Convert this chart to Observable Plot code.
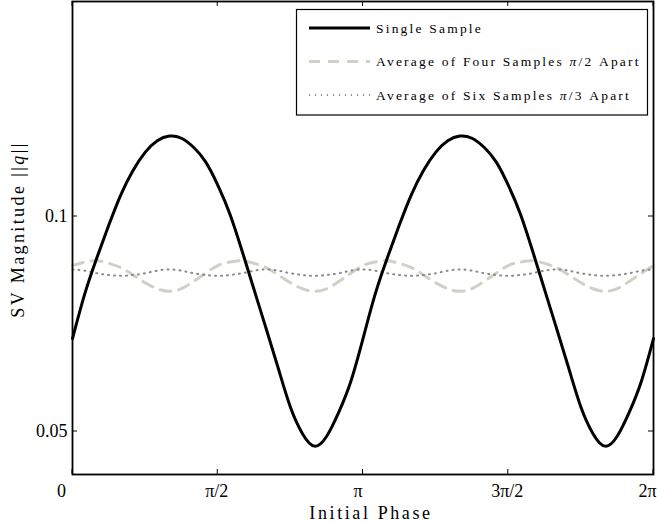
<!DOCTYPE html>
<html><head><meta charset="utf-8">
<script src="https://cdn.jsdelivr.net/npm/d3@7"></script>
<script src="https://cdn.jsdelivr.net/npm/@observablehq/plot@0.6"></script>
<style>body{margin:0;background:#fff} svg{display:block}</style>
</head><body><div id="chart"></div>
<script>
// Initial phase, in multiples of pi
const phaseOverPi = [0, 0.0417, 0.0833, 0.125, 0.1667, 0.2083, 0.25, 0.2917, 0.3333, 0.375, 0.4167, 0.4583,
  0.5, 0.5417, 0.5833, 0.625, 0.6667, 0.7083, 0.75, 0.7917, 0.8333, 0.875, 0.9167, 0.9583,
  1, 1.0417, 1.0833, 1.125, 1.1667, 1.2083, 1.25, 1.2917, 1.3333, 1.375, 1.4167, 1.4583,
  1.5, 1.5417, 1.5833, 1.625, 1.6667, 1.7083, 1.75, 1.7917, 1.8333, 1.875, 1.9167, 1.9583, 2];

const singleSample = [0.0716, 0.0819, 0.0903, 0.0980, 0.1051, 0.1107, 0.1149, 0.1176, 0.1187, 0.1182, 0.1161, 0.1127,
  0.1073, 0.1006, 0.0921, 0.0830, 0.0739, 0.0647, 0.0557, 0.0495, 0.0466, 0.0489, 0.0545, 0.0617,
  0.0716, 0.0819, 0.0903, 0.0980, 0.1051, 0.1107, 0.1149, 0.1176, 0.1187, 0.1182, 0.1161, 0.1127,
  0.1073, 0.1006, 0.0921, 0.0830, 0.0739, 0.0647, 0.0557, 0.0495, 0.0466, 0.0489, 0.0545, 0.0617, 0.0716];

const fourSampleAvg = [0.0886, 0.0894, 0.0897, 0.0891, 0.0881, 0.0864, 0.0846, 0.0832, 0.0826, 0.0832, 0.0849, 0.0868,
  0.0886, 0.0894, 0.0897, 0.0891, 0.0881, 0.0864, 0.0846, 0.0832, 0.0826, 0.0832, 0.0849, 0.0868,
  0.0886, 0.0894, 0.0897, 0.0891, 0.0881, 0.0864, 0.0846, 0.0832, 0.0826, 0.0832, 0.0849, 0.0868,
  0.0886, 0.0894, 0.0897, 0.0891, 0.0881, 0.0864, 0.0846, 0.0832, 0.0826, 0.0832, 0.0849, 0.0868, 0.0886];

const sixSampleAvg = [0.0877, 0.0874, 0.0868, 0.0864, 0.0862, 0.0864, 0.0868, 0.0874,
  0.0877, 0.0874, 0.0868, 0.0864, 0.0862, 0.0864, 0.0868, 0.0874,
  0.0877, 0.0874, 0.0868, 0.0864, 0.0862, 0.0864, 0.0868, 0.0874,
  0.0877, 0.0874, 0.0868, 0.0864, 0.0862, 0.0864, 0.0868, 0.0874,
  0.0877, 0.0874, 0.0868, 0.0864, 0.0862, 0.0864, 0.0868, 0.0874,
  0.0877, 0.0874, 0.0868, 0.0864, 0.0862, 0.0864, 0.0868, 0.0874, 0.0877];

const seriesNames = ["Single Sample", "Average of Four Samples π/2 Apart", "Average of Six Samples π/3 Apart"];
const xTicksOverPi = [0, 0.5, 1, 1.5, 2];
const xTickLabels = ["0", "π/2", "π", "3π/2", "2π"];
const yTicks = [0.05, 0.1];
const yTickLabels = ["0.05", "0.1"];
const xTitle = "Initial Phase";
const yTitle = "SV Magnitude ";

const PI = Math.PI;
const xTicks = xTicksOverPi.map(d => d * PI);
const rows = (vals) => phaseOverPi.map((p, i) => ({x: p * PI, y: vals[i]}));
const serif = "'Liberation Serif', 'Times New Roman', serif";

const labelText = (idx, dx) => Plot.text(idx.map(i => ({x: xTicks[i], t: xTickLabels[i]})), {
  x: "x", text: "t", frameAnchor: "bottom", dy: 17, dx, lineAnchor: "middle",
  fontSize: 18, fontFamily: serif, fill: "black"
});

const svg = Plot.plot({
  width: 657, height: 522,
  marginLeft: 72, marginRight: 4, marginTop: 1, marginBottom: 48,
  style: {background: "white", overflow: "visible"},
  x: {domain: [0, 2 * PI], axis: null},
  y: {domain: [0.04, 0.15], axis: null},
  marks: [
    Plot.line(rows(fourSampleAvg), {x: "x", y: "y", stroke: "#d3cfc7", strokeWidth: 3, strokeDasharray: "11,8", curve: "natural"}),
    Plot.line(rows(sixSampleAvg), {x: "x", y: "y", stroke: "#8a8a8a", strokeWidth: 2, strokeDasharray: "1,5", curve: "natural"}),
    Plot.line(rows(singleSample), {x: "x", y: "y", stroke: "black", strokeWidth: 3, curve: "natural"}),
    Plot.frame({stroke: "black", strokeWidth: 1.8}),
    labelText([0], -11),
    labelText([1, 3], -1),
    labelText([2], -5),
    labelText([4], -6),
    Plot.text(yTicks.map((v, i) => ({y: v, t: yTickLabels[i]})), {
      y: "y", text: "t", frameAnchor: "left", dx: -5, textAnchor: "end", lineAnchor: "middle",
      fontSize: 18, fontFamily: serif, fill: "black"
    })
  ]
});
document.getElementById("chart").appendChild(svg);

const s = d3.select(svg);
const sx = svg.scale("x"), sy = svg.scale("y");
const [x0, x1] = sx.range, [yb, yt0] = sy.range;
const tickLen = 5;
const tg = s.append("g").attr("stroke", "black").attr("stroke-width", 1);
xTicks.forEach(v => {
  const px = sx.apply(v);
  tg.append("line").attr("x1", px).attr("x2", px).attr("y1", yb).attr("y2", yb - tickLen);
  tg.append("line").attr("x1", px).attr("x2", px).attr("y1", yt0).attr("y2", yt0 + tickLen);
});
yTicks.forEach(v => {
  const py = sy.apply(v);
  tg.append("line").attr("x1", x0).attr("x2", x0 + tickLen).attr("y1", py).attr("y2", py);
  tg.append("line").attr("x1", x1).attr("x2", x1 - tickLen).attr("y1", py).attr("y2", py);
});

// Axis titles
s.append("text").attr("x", 371).attr("y", 519).attr("text-anchor", "middle")
  .attr("font-family", serif).attr("font-size", 18).attr("letter-spacing", 2.6).text(xTitle);
const yt = s.append("text").attr("transform", "translate(24,229.5) rotate(-90)").attr("text-anchor", "middle")
  .attr("font-family", serif).attr("font-size", 18).attr("letter-spacing", 2.4);
yt.append("tspan").text(yTitle + "||");
yt.append("tspan").attr("font-style", "italic").text("q");
yt.append("tspan").text("||");

// Legend
const lg = s.append("g");
lg.append("rect").attr("x", 296.5).attr("y", 9.5).attr("width", 351).attr("height", 105.5)
  .attr("fill", "white").attr("stroke", "black").attr("stroke-width", 1.2);
const styles = [
  {stroke: "black", width: 3, dash: null},
  {stroke: "#d3cfc7", width: 3, dash: "11,8"},
  {stroke: "#8a8a8a", width: 2, dash: "1,5"}
];
const rowsY = [28, 61.5, 95];
seriesNames.forEach((name, i) => {
  lg.append("line").attr("x1", 309).attr("x2", 370).attr("y1", rowsY[i]).attr("y2", rowsY[i])
    .attr("stroke", styles[i].stroke).attr("stroke-width", styles[i].width)
    .attr("stroke-dasharray", styles[i].dash);
  const t = lg.append("text").attr("x", 376).attr("y", rowsY[i]).attr("dy", "0.35em")
    .attr("text-anchor", "start")
    .attr("font-family", serif).attr("font-size", 13.5).attr("letter-spacing", 2.2);
  const parts = name.split("π");
  t.append("tspan").text(parts[0]);
  if (parts.length > 1) {
    t.append("tspan").attr("font-style", "italic").text("π");
    t.append("tspan").text(parts[1]);
  }
});
</script>
</body></html>
